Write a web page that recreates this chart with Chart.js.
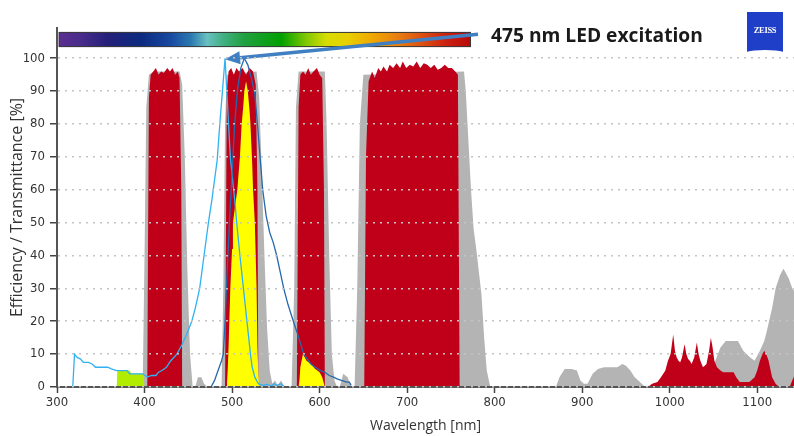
<!DOCTYPE html>
<html>
<head>
<meta charset="utf-8">
<script src="https://cdn.jsdelivr.net/npm/chart.js@4.4.1/dist/chart.umd.min.js"></script>
<style>
  html, body { margin: 0; padding: 0; background: #ffffff; }
  #wrap { position: relative; width: 794px; height: 436px; overflow: hidden; }
  #c { position: absolute; left: 0; top: 0; }
  #note { position: absolute; left: 491px; top: 22px; font-family: 'Open Sans', 'Liberation Sans', sans-serif; font-weight: 700; font-size: 19.2px; color: #1a1a1a; white-space: nowrap; line-height: 26px; }
  #logo { position: absolute; left: 747px; top: 12px; width: 36px; height: 43px; background: #1f3fc8; overflow: hidden; }
  #logo span { position: absolute; left: 0; width: 36px; top: 13px; text-align: center; color: #ffffff; font-family: 'Liberation Serif', 'DejaVu Serif', serif; font-weight: 700; font-size: 8.5px; letter-spacing: -0.3px; }
  #logo i { position: absolute; left: -10px; width: 56px; height: 16px; bottom: -11px; background: #ffffff; border-radius: 50%; }
</style>
</head>
<body>
<div id="wrap">
  <canvas id="c" width="794" height="436"></canvas>
  <div id="note">475 nm LED excitation</div>
  <div id="logo"><span>ZEISS</span><i></i></div>
</div>
<script>
// ---------- data (wavelength nm, value %) ----------
const xTickValues = [300, 400, 500, 600, 700, 800, 900, 1000, 1100];
const yTickValues = [0, 10, 20, 30, 40, 50, 60, 70, 80, 90, 100];

const grayWl = [395,398,400,402,405,410,440,443,446,449,452,455, 458,461,465,468,472, 488,490,492,494,528,531,534,537,540,543,546,549,552,556,560, 568,571,573,576,606,608,611,614,617,620, 623,627,632,636, 640,643,646,650,765,767,770,773,776,779,782,785,788,791,795, 870,874,880,888,894,898,902,906,912,918,925,940,946,950,955,960,966,972, 1040,1048,1052,1058,1064,1078,1084,1092,1097,1103,1108,1111,1117,1121,1126,1130,1132,1136,1140,1145];
const grayVal = [0,2,40,85,95,96,96,92,70,35,10,0, 0,3,3,1,0, 0,30,80,95,96,88,65,40,18,5,1,2,0.5,2,0, 0,30,85,96,96,80,40,10,2,0, 0,4,3,0, 0,30,80,95,96,90,75,60,48,42,35,28,15,5,0, 0,3,5.5,5.5,5,2,1,1,4,5.5,6,6,7,6.5,5,3,1.5,0, 0,4,8,12,14,14,11,9,8,11,14,17,24,30,34,36,35,33,30,28];

const redWl = [403,405,407,410,413,416,419,422,426,429,432,435,438,440,442,443, 492,494,496,499,502,505,508,512,516,520,524,527,529,530, 574,576,578,581,584,587,590,593,597,600,603,605,606, 651,653,656,660,663,667,670,673,677,680,684,688,692,695,699,703,707,711,715,719,723,727,731,735,739,743,747,751,755,758,760, 975,980,986,990,995,998,1001,1004,1006,1008,1010,1012,1014,1017,1019,1021,1023,1025,1028,1031,1033,1035,1038,1040,1042,1045,1047,1049,1051,1054,1058,1061,1073,1076,1080,1091,1097,1100,1103,1106,1108,1111,1113,1117,1121,1125, 1137,1140,1145];
const redVal = [0,88,95,96,97,95,96,95.5,97,96,97,95,96,94,60,0, 0,90,96,97,95,97,96,97,95,97,96,92,60,0, 0,85,95,96,95,97,95,96,97,95,94,60,0, 0,70,93,96,94,97,96,97.5,96,98,97,98.5,97,99,97,98,97.5,99,97,98.5,98,97,98,96.5,97,98,97,97,96,95,0, 0,1,1.5,3,5,8,10,16,11,9,8,7.5,9,13,10,8.5,8,7,9,13.5,10,8,6,6.5,7,11,15,12,8,6,5,4.5,4.5,3,1.5,1.5,3,5,8,10,11,9.5,8,3,1,0, 0,2,5];

const yellowWl = [494,495,496,498,500,501,504,506,509,511,513,514,516,518,520,521,523,524,526,527,528,529,530,531, 576,577,578,581,585,590,595,600,603,605,606];
const yellowVal = [0,5,12,30,42,50,56,60,70,80,86,90,93,90,84,80,68,60,50,40,30,12,4,0, 0,2,6,10,8,7,5.5,4.5,3,1,0];

const limeWl = [368,369,375,383,385,399,400];
const limeVal = [0,5,5,5,4,4,0];

const excitationWl = [318,320,323,327,330,336,340,344,350,358,362,368,380,383,390,398,403,408,413,416,420,425,430,437,443,448,454,458,463,468,473,477,480,483,486,489,492,494,496,498,501,503,506,509,511,513,515,517,519,521,523,526,530,535,540,545,548,551,556,560];
const excitationVal = [0,10,9,8.5,7.5,7.5,7,6,6,6,5.5,5,5,4,4,4,3,3.5,3.5,4.5,5,6,8,10,13,16,20,24,30,40,50,57,63,69,80,90,100,90,80,70,62,57,48,40,35,30,25,20,15,10,6,3,1,0.5,0.8,0.3,1,0.5,1,0];

const emissionWl = [476,480,484,488,490,492,494,497,500,503,506,510,514,518,522,526,529,532,535,539,543,547,551,555,559,564,570,575,579,582,586,590,595,601,606,611,616,620,625,631,634,636];
const emissionVal = [0,2,5,8,10,20,33,50,65,80,90,97,100,98,94,89,80,70,60,52,47,44,40,35,30,25,20,16,12.5,10,8.5,7,6,5,4.5,3.5,3,2.5,2,1.5,1.5,0.5];

// colour bar range (nm, %) and arrow (nm, %)
const barRangeNm = [302, 773];
const barRangePct = [108.0, 103.4];
const arrowFrom = [781, 107.3];
const arrowTo = [492, 99.7];

const pts = (xs, ys) => xs.map((x, i) => ({ x: x, y: ys[i] }));

const overlay = {
  id: 'overlay',
  afterDatasetsDraw(chart) {
    const { ctx, scales: { x, y } } = chart;
    const x0 = x.getPixelForValue(barRangeNm[0]);
    const x1 = x.getPixelForValue(barRangeNm[1]);
    const y0 = y.getPixelForValue(barRangePct[0]);
    const y1 = y.getPixelForValue(barRangePct[1]);
    const g = ctx.createLinearGradient(x0, 0, x1, 0);
    const stops = [[0,'#5b2f90'],[0.05,'#4a2c8c'],[0.12,'#24207a'],[0.20,'#0c2a80'],[0.27,'#1848a0'],[0.32,'#2a78b0'],[0.36,'#68c0c0'],[0.40,'#40b080'],[0.45,'#20a040'],[0.54,'#00a000'],[0.60,'#80c800'],[0.65,'#d8dc00'],[0.70,'#e8d000'],[0.76,'#f0a800'],[0.82,'#e88010'],[0.88,'#dc5010'],[0.94,'#cc2010'],[1,'#b80808']];
    stops.forEach(s => g.addColorStop(s[0], s[1]));
    ctx.save();
    ctx.fillStyle = g;
    ctx.fillRect(x0, y0, x1 - x0, y1 - y0);
    ctx.strokeStyle = '#3a3a3a';
    ctx.lineWidth = 1;
    ctx.strokeRect(x0 + 0.5, y0 + 0.5, x1 - x0 - 1, y1 - y0 - 1);

    // arrow
    const ax0 = x.getPixelForValue(arrowFrom[0]);
    const ay0 = y.getPixelForValue(arrowFrom[1]);
    const ax1 = x.getPixelForValue(arrowTo[0]);
    const ay1 = y.getPixelForValue(arrowTo[1]);
    const ang = Math.atan2(ay1 - ay0, ax1 - ax0);
    const headLen = 15, headW = 6.5;
    const bx = ax1 - headLen * Math.cos(ang);
    const by = ay1 - headLen * Math.sin(ang);
    ctx.strokeStyle = '#3f7fc2';
    ctx.lineWidth = 3.5;
    ctx.lineCap = 'butt';
    ctx.beginPath();
    ctx.moveTo(ax0, ay0);
    ctx.lineTo(bx, by);
    ctx.stroke();
    ctx.fillStyle = '#3f7fc2';
    ctx.beginPath();
    ctx.moveTo(ax1, ay1);
    ctx.lineTo(bx + headW * Math.sin(ang), by - headW * Math.cos(ang));
    ctx.lineTo(bx - headW * Math.sin(ang), by + headW * Math.cos(ang));
    ctx.closePath();
    ctx.fill();
    ctx.restore();
  }
};

const tickFont = { family: "'Liberation Sans Narrow', 'DejaVu Sans Condensed', sans-serif", size: 13 };
const titleFont = { family: "'Open Sans', 'Liberation Sans', sans-serif", size: 14 };
const yTitleFont = { family: "'Open Sans', 'Liberation Sans', sans-serif", size: 16 };

new Chart(document.getElementById('c'), {
  type: 'line',
  data: {
    datasets: [
      { label: 'Emission', data: pts(emissionWl, emissionVal), borderColor: '#2568ad', borderWidth: 1.3, fill: false },
      { label: 'Excitation', data: pts(excitationWl, excitationVal), borderColor: '#30b2f2', borderWidth: 1.3, fill: false },
      { label: 'Excitation x filter', data: pts(limeWl, limeVal), borderWidth: 0, borderColor: 'rgba(0,0,0,0)', backgroundColor: '#b2ec00', fill: 'origin' },
      { label: 'Emission x filter', data: pts(yellowWl, yellowVal), borderWidth: 0, borderColor: 'rgba(0,0,0,0)', backgroundColor: '#ffff00', fill: 'origin' },
      { label: 'Filter', data: pts(redWl, redVal), borderWidth: 0, borderColor: 'rgba(0,0,0,0)', backgroundColor: '#c00018', fill: 'origin' },
      { label: 'Filter set', data: pts(grayWl, grayVal), borderWidth: 0, borderColor: 'rgba(0,0,0,0)', backgroundColor: '#b4b4b4', fill: 'origin' }
    ]
  },
  options: {
    responsive: false,
    animation: false,
    layout: { padding: { top: 28, right: 0, left: 0, bottom: 0 } },
    elements: { point: { radius: 0 }, line: { tension: 0 } },
    plugins: { legend: { display: false }, tooltip: { enabled: false } },
    scales: {
      x: {
        type: 'linear', min: 300, max: 1142,
        afterFit: s => { s.height = 49; },
        afterBuildTicks: s => { s.ticks = xTickValues.map(v => ({ value: v })); },
        ticks: { font: tickFont, color: '#333333', padding: 2, maxRotation: 0, autoSkip: false, callback: v => String(v) },
        grid: { display: true, drawOnChartArea: false, drawTicks: true, tickLength: 6, tickColor: '#444444', tickWidth: 1.5 },
        border: { color: '#555555', width: 2, z: 1 },
        title: { display: true, text: 'Wavelength [nm]', font: titleFont, color: '#333333', padding: { top: 0, bottom: 2 } }
      },
      y: {
        type: 'linear', min: 0, max: 109.2,
        afterFit: s => { s.width = 57; },
        afterBuildTicks: s => { s.ticks = yTickValues.map(v => ({ value: v })); },
        ticks: { font: tickFont, color: '#333333', padding: 5, autoSkip: false, callback: v => String(v) },
        grid: { color: '#c4c4c4', lineWidth: 1.5, tickLength: 7, tickColor: '#444444', tickWidth: 1.5, z: 1 },
        border: { color: '#555555', width: 2, dash: [2, 5], z: 1 },
        title: { display: true, text: 'Efficiency / Transmittance [%]', font: yTitleFont, color: '#333333', padding: { top: 8, bottom: 0 } }
      }
    }
  },
  plugins: [overlay]
});
</script>
</body>
</html>
